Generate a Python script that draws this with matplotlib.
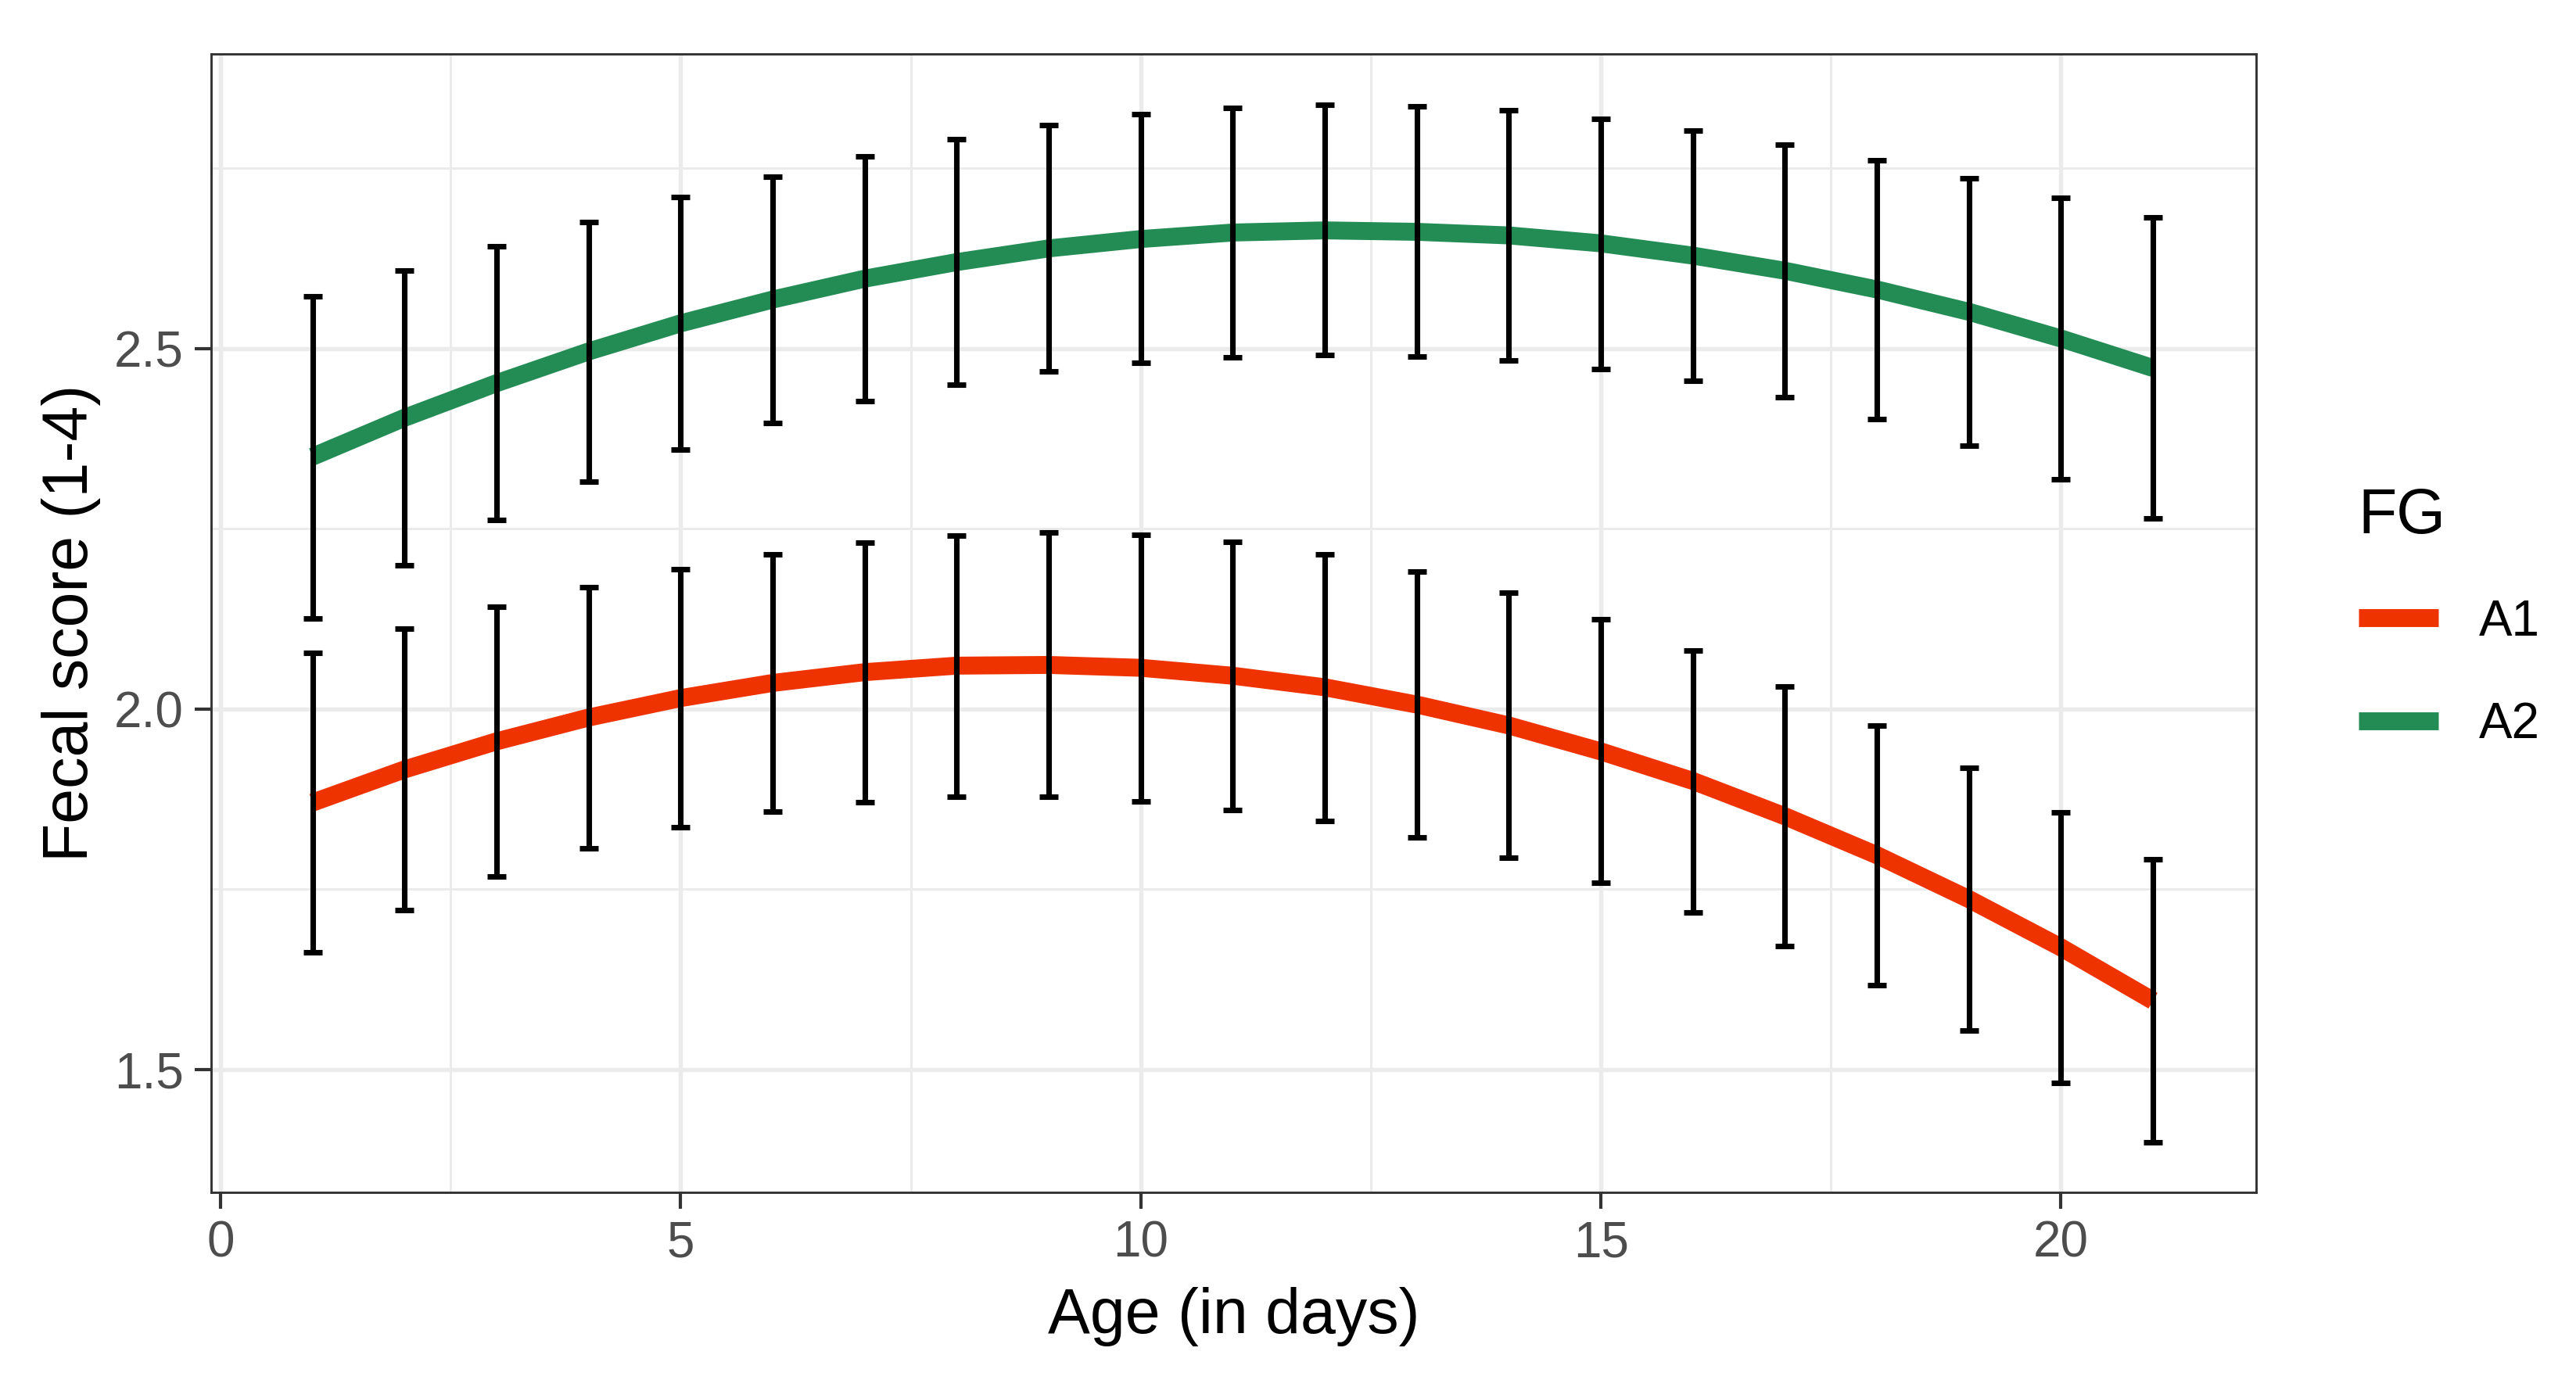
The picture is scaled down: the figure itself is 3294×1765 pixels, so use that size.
"""
Fecal score vs age for the two FG groups: fitted curve with error bars,
ggplot theme_bw look.
"""

import matplotlib

matplotlib.use("Agg")
import matplotlib.pyplot as plt
from matplotlib.lines import Line2D
from matplotlib.ticker import MultipleLocator

plt.rcParams["font.family"] = ["Liberation Sans", "DejaVu Sans"]

# --------------------------------------------------------------------------- #
# Data
# --------------------------------------------------------------------------- #
DAYS = list(range(1, 22))

A1_FIT = [1.870, 1.916, 1.955, 1.988, 2.015, 2.036, 2.051, 2.060, 2.061, 2.057,
          2.046, 2.030, 2.006, 1.977, 1.941, 1.900, 1.851, 1.797, 1.736, 1.669,
          1.595]
A1_LO = [1.662, 1.721, 1.768, 1.806, 1.836, 1.857, 1.871, 1.878, 1.878, 1.872,
         1.860, 1.844, 1.822, 1.793, 1.759, 1.718, 1.671, 1.617, 1.554, 1.481,
         1.399]
A1_HI = [2.078, 2.111, 2.142, 2.169, 2.194, 2.215, 2.231, 2.241, 2.245, 2.242,
         2.232, 2.215, 2.191, 2.161, 2.124, 2.081, 2.031, 1.977, 1.918, 1.856,
         1.791]

A2_FIT = [2.350, 2.404, 2.452, 2.496, 2.535, 2.568, 2.597, 2.620, 2.639, 2.652,
          2.661, 2.664, 2.662, 2.657, 2.646, 2.629, 2.608, 2.582, 2.551, 2.514,
          2.473]
A2_LO = [2.126, 2.199, 2.262, 2.315, 2.360, 2.397, 2.427, 2.450, 2.468, 2.480,
         2.488, 2.491, 2.489, 2.483, 2.472, 2.455, 2.432, 2.402, 2.365, 2.319,
         2.264]
A2_HI = [2.573, 2.608, 2.642, 2.676, 2.710, 2.739, 2.767, 2.791, 2.810, 2.825,
         2.834, 2.838, 2.836, 2.831, 2.819, 2.803, 2.783, 2.761, 2.736, 2.709,
         2.682]

GROUPS = ["A1", "A2"]
COLORS = {"A1": "#EE3300", "A2": "#238C55"}

X_LIM = (-0.101, 22.117)
Y_LIM = (1.329, 2.909)

# --------------------------------------------------------------------------- #
# Style
# --------------------------------------------------------------------------- #
W_PX, H_PX, DPI = 3294, 1765, 300
TICK_FS = 15.3
TITLE_FS = 19.4
GRID_C = "#EBEBEB"
DARK = "#333333"
LINE_W = 5.5
ERR_W = 1.7


def main():
    fig = plt.figure(figsize=(W_PX / DPI, H_PX / DPI), dpi=DPI)
    ax = fig.add_axes([0.0820, 0.1359, 0.7937, 0.8251])

    fits = {"A1": A1_FIT, "A2": A2_FIT}
    los = {"A1": A1_LO, "A2": A2_LO}
    his = {"A1": A1_HI, "A2": A2_HI}

    for g in GROUPS:
        ax.plot(DAYS, fits[g], color=COLORS[g], lw=LINE_W,
                solid_capstyle="butt", solid_joinstyle="round", zorder=3)
    for g in GROUPS:
        lower = [f - lo for f, lo in zip(fits[g], los[g])]
        upper = [hi - f for f, hi in zip(fits[g], his[g])]
        # capsize is the half-length of the cap in points
        ax.errorbar(DAYS, fits[g], yerr=[lower, upper], fmt="none",
                    ecolor="black", elinewidth=ERR_W, capsize=2.85,
                    capthick=ERR_W, zorder=4)

    ax.set_xlim(*X_LIM)
    ax.set_ylim(*Y_LIM)
    ax.xaxis.set_major_locator(MultipleLocator(5))
    ax.xaxis.set_minor_locator(MultipleLocator(2.5))
    ax.yaxis.set_major_locator(MultipleLocator(0.5))
    ax.yaxis.set_minor_locator(MultipleLocator(0.25))
    ax.yaxis.set_major_formatter(lambda v, pos: f"{v:.1f}")

    ax.grid(which="major", color=GRID_C, lw=1.3, zorder=0)
    ax.grid(which="minor", color=GRID_C, lw=0.7, zorder=0)
    ax.set_axisbelow(True)

    for s in ax.spines.values():
        s.set_color(DARK)
        s.set_linewidth(0.7)
    ax.tick_params(which="major", length=5, width=1.0, color=DARK,
                   labelsize=TICK_FS, labelcolor="#4D4D4D", pad=3.5)
    ax.tick_params(which="minor", length=0)

    ax.set_xlabel("Age (in days)", fontsize=TITLE_FS, color="black", labelpad=6)
    ax.set_ylabel("Fecal score (1-4)", fontsize=TITLE_FS, color="black", labelpad=4)

    handles = [Line2D([0], [0], color=COLORS[g], lw=LINE_W, solid_capstyle="butt")
               for g in GROUPS]
    leg = fig.legend(handles, GROUPS, title="FG", loc="upper left",
                     bbox_to_anchor=(0.9155, 0.647), frameon=False,
                     fontsize=TICK_FS, title_fontsize=TITLE_FS,
                     handlelength=1.6, handletextpad=0.82, labelspacing=1.12,
                     borderpad=0, borderaxespad=0)
    leg._legend_box.align = "left"
    leg._legend_box.sep = 16

    fig.savefig("out.png", dpi=DPI, facecolor="white")
    plt.close(fig)


if __name__ == "__main__":
    main()
